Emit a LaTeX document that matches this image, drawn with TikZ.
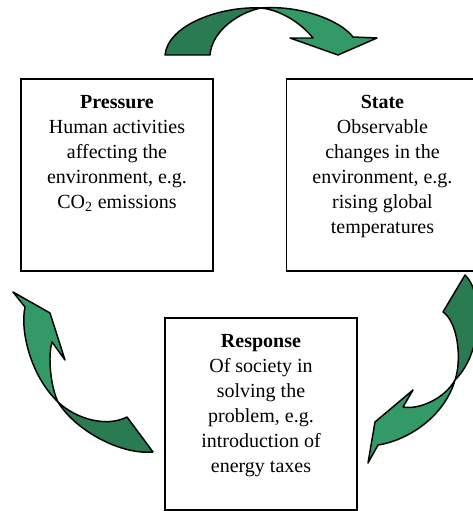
\documentclass[tikz,border=0pt]{standalone}
\usepackage{fontspec}
\setmainfont{Liberation Serif}
\usetikzlibrary{positioning}
\definecolor{frontgreen}{RGB}{51,153,102}
\definecolor{backgreen}{RGB}{42,122,82}

\begin{document}
\begin{tikzpicture}[
  x=0.75pt, y=-0.75pt,
  node distance=54pt,
  stage/.style={
    draw=black,
    line width=1.1pt,
    minimum width=144pt,
    minimum height=144pt,
    inner sep=0pt
  },
  caption/.style={align=center, inner sep=0pt, font=\fontsize{15pt}{18.75pt}\selectfont},
  front/.style={fill=frontgreen, draw=black, line width=1.1pt, line join=round},
  back/.style={fill=backgreen, draw=black, line width=1.1pt, line join=round}
]
  \clip (0,0) rectangle (473,511);

  \node[stage] (pressure) at (117,175) {};
  \node[stage, right=of pressure] (state) {};
  \node[stage] (response) at (261,414) {};

  \node[caption, below=12.6pt of pressure.north] (pressuretext) {\textbf{Pressure}\\Human activities\\affecting the\\environment, e.g.\\CO\textsubscript{2} emissions};
  \node[caption, below=12.6pt of state.north] (statetext) {\textbf{State}\\Observable\\changes in the\\environment, e.g.\\rising global\\temperatures};
  \node[caption, below=12.6pt of response.north] (responsetext) {\textbf{Response}\\Of society in\\solving the\\problem, e.g.\\introduction of\\energy taxes};

  % pressure -> state
  \filldraw[back] (261,8) .. controls (220,6) and (168,25) .. (165,55) -- (210,55)
    .. controls (212,30) and (240,12) .. (261,8) -- cycle;
  \filldraw[front] (261,8) .. controls (300,5) and (340,20) .. (353,37) -- (377,38) -- (338,55)
    -- (290,38) -- (313,38) .. controls (300,22) and (280,10) .. (261,8) -- cycle;

  % state -> response
  \filldraw[back] (465,275) -- (443,312) .. controls (458,322) and (462,360) .. (455,380)
    .. controls (485,350) and (482,290) .. (465,275) -- cycle;
  \filldraw[front] (455,380) .. controls (445,398) and (420,410) .. (403,407) -- (413,390)
    -- (375,422) -- (368,463) -- (378,445) .. controls (410,440) and (445,415) .. (455,380) -- cycle;

  % response -> pressure
  \filldraw[back] (58,402) .. controls (75,418) and (105,428) .. (127,417) -- (153,452)
    .. controls (120,455) and (75,430) .. (58,402) -- cycle;
  \filldraw[front] (58,402) .. controls (50,385) and (48,355) .. (52,342) -- (65,360) -- (50,313)
    -- (13,292) -- (25,307) .. controls (20,330) and (30,375) .. (58,402) -- cycle;
\end{tikzpicture}
\end{document}
